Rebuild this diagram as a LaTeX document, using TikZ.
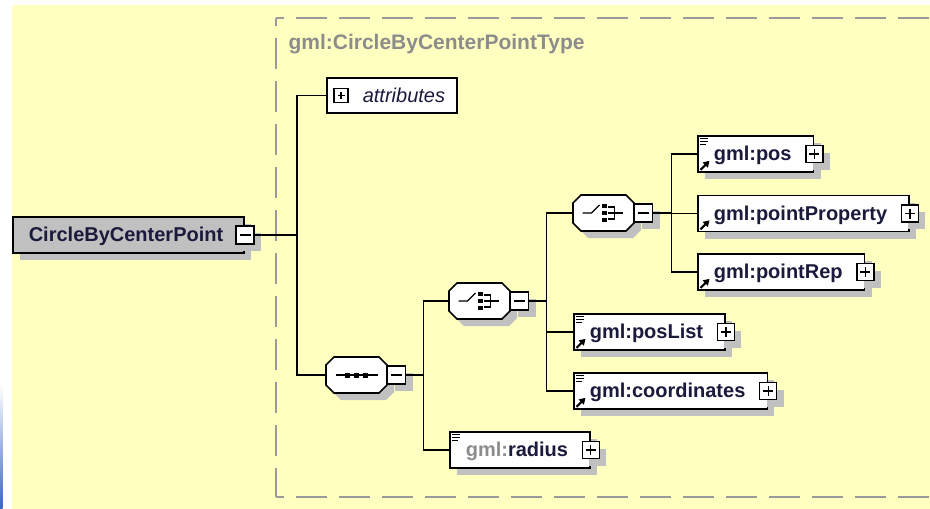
\documentclass[tikz,border=0pt]{standalone}
\usepackage{fontspec}
\setmainfont{Liberation Sans}
\usetikzlibrary{arrows.meta,positioning,shadows,calc}
\definecolor{canvas}{HTML}{FFFFC0}
\definecolor{ink}{HTML}{1A1A3C}
\definecolor{shade}{HTML}{C0C0C0}
\definecolor{rootfill}{HTML}{C0C0C0}
\definecolor{frame}{HTML}{9A9A9A}
\definecolor{typename}{HTML}{8C8C8C}
\definecolor{edgeblue}{HTML}{3A64C8}
\tikzset{
  every node/.style={font=\fontsize{20}{24}\selectfont,text=ink},
  wire/.style={draw=black,line width=1.6pt},
  typeframe/.style={draw=frame,line width=1.8pt,dash pattern=on 31pt off 12pt,dash phase=23pt},
  typelabel/.style={anchor=west,text=typename,font=\fontsize{21}{25}\selectfont\bfseries},
  shadowed/.style={general shadow={fill=shade,shadow xshift=7pt,shadow yshift=-7pt}},
  boxbase/.style={draw=black,line width=1.6pt,fill=white,shadowed,anchor=west,
    minimum height=36pt,inner xsep=0pt,inner ysep=0pt,text height=15pt,text depth=2pt,
    font=\fontsize{20}{24}\selectfont\bfseries},
  elem/.style={boxbase,execute at begin node={\hspace*{16pt}},execute at end node={\hspace*{22pt}}},
  rootbox/.style={boxbase,fill=rootfill,execute at begin node={\hspace*{16pt}},execute at end node={\hspace*{21pt}}},
  attrbox/.style={draw=black,line width=1.6pt,fill=white,anchor=west,
    minimum height=35pt,inner xsep=0pt,text height=15pt,text depth=2pt,
    font=\fontsize{20}{24}\selectfont\itshape,
    execute at begin node={\hspace*{36pt}},execute at end node={\hspace*{12pt}}},
  compo/.style={anchor=west,minimum width=61pt,minimum height=36pt,inner sep=0pt,outer sep=0pt},
  octagon/.style={draw=black,line width=1.6pt,fill=white},
  octshadow/.style={fill=shade,transform canvas={shift={(7pt,-7pt)}}},
  signbox/.style={draw=black,line width=1.3pt,fill=white,minimum width=18pt,minimum height=18pt,inner sep=0pt},
  minusmark/.style={path picture={\draw[line width=1.3pt]
    ([xshift=3.5pt]path picture bounding box.west) -- ([xshift=-3.5pt]path picture bounding box.east);}},
  plusmark/.style={path picture={\draw[line width=1.3pt]
    ([xshift=3.5pt]path picture bounding box.west) -- ([xshift=-3.5pt]path picture bounding box.east)
    ([yshift=-3.5pt]path picture bounding box.north) -- ([yshift=3.5pt]path picture bounding box.south);}},
  minusbox/.style={signbox,shadowed,minusmark},
  plusbox/.style={signbox,shadowed,plusmark,minimum width=17pt,minimum height=17pt},
  flatplus/.style={signbox,plusmark,minimum width=14pt,minimum height=14pt},
  glyph/.style={draw=black,line width=1.2pt},
  refglyph/.style={draw=black,line width=2.2pt,-{Triangle[length=6pt,width=7pt]}},
}
% octagon outline of a model group node
\newcommand{\octpath}[1]{([xshift=8pt]#1.north west) -- ([xshift=-8pt]#1.north east)
  -- ([yshift=-8pt]#1.north east) -- ([yshift=8pt]#1.south east)
  -- ([xshift=-8pt]#1.south east) -- ([xshift=8pt]#1.south west)
  -- ([yshift=8pt]#1.south west) -- ([yshift=-8pt]#1.north west) -- cycle}
\newcommand{\groupshape}[1]{%
  \fill[octshadow] \octpath{#1};
  \draw[octagon] \octpath{#1};}
% small marks inside the boxes
\newcommand{\simplemark}[1]{%
  \draw[glyph] ([shift={(3,3.5)}]#1.north west) -- ++(8,0)
    ([shift={(3,6.5)}]#1.north west) -- ++(8,0)
    ([shift={(3,9.5)}]#1.north west) -- ++(6,0);}
\newcommand{\refmark}[1]{%
  \draw[refglyph] ([shift={(3.5,-3)}]#1.south west) -- ++(9,-9);}
\newcommand{\seqmark}[1]{%
  \draw[glyph,line width=1.5pt] ([xshift=-21pt]#1.center) -- ([xshift=21pt]#1.center);
  \foreach \dx in {-9,0,9}
    \fill ([shift={(\dx-2.5,-2.5)}]#1.center) rectangle ++(5,5);}
\newcommand{\choicemark}[1]{%
  \draw[glyph,line width=1.4pt] ([shift={(-21,0)}]#1.center) -- ++(9,0) -- ++(8,-8);
  \foreach \dy in {-7,0,7}
    \fill ([shift={(-1.2,\dy-2.2)}]#1.center) rectangle ++(4.4,4.4);
  \draw[glyph,line width=1.4pt] ([shift={(4,-6)}]#1.center) -- ++(7,0) -- ++(0,12) -- ++(-7,0)
    ([shift={(4,0)}]#1.center) -- ++(15,0);}

\begin{document}
\begin{tikzpicture}[x=1pt,y=-1pt]
\useasboundingbox (0,0) rectangle (930,509);
\fill[white] (0,0) rectangle (930,509);
\fill[canvas] (12,5) rectangle (930,509);
\shade[top color=white,bottom color=edgeblue] (0,385) rectangle (2.5,509);

% complex type frame
\draw[typeframe] (276,18) -- (931,18);
\draw[typeframe] (276,18) -- (276,497);
\draw[typeframe] (276,497) -- (931,497);
\node[typelabel] (ctype) at (285,44) {gml:CircleByCenterPointType};

% root element
\node[rootbox] (root) at (12,235) {CircleByCenterPoint};
\node[minusbox] (rootx) at (root.east) {};

\node[attrbox] (attr) at (326,95.5) {attributes};
\node[flatplus] (attrx) at ([xshift=15pt]attr.west) {};

% model groups
\node[compo] (seq) at (326,375) {};
\groupshape{seq}
\node[minusbox,anchor=west] (seqx) at (seq.east) {};
\seqmark{seq}

\node[compo] (pick) at (449,301) {};
\groupshape{pick}
\node[minusbox,anchor=west] (pickx) at (pick.east) {};
\choicemark{pick}

\node[compo] (point) at (573,213) {};
\groupshape{point}
\node[minusbox,anchor=west] (pointx) at (point.east) {};
\choicemark{point}

% child elements
\node[elem] (pos) at (697,154) {gml:pos};
\node[plusbox] (posx) at (pos.east) {};
\simplemark{pos}
\refmark{pos}

\node[elem] (prop) at (697,213.5) {gml:pointProperty};
\node[plusbox] (propx) at (prop.east) {};
\refmark{prop}

\node[elem] (rep) at (697,272) {gml:pointRep};
\node[plusbox] (repx) at (rep.east) {};
\refmark{rep}

\node[elem] (plist) at (573,332) {gml:posList};
\node[plusbox] (plistx) at (plist.east) {};
\simplemark{plist}
\refmark{plist}

\node[elem] (coords) at (573,391) {gml:coordinates};
\node[plusbox] (coordsx) at (coords.east) {};
\simplemark{coords}
\refmark{coords}

\node[elem] (radius) at (449,450) {\textcolor{typename}{gml:}radius};
\node[plusbox] (radiusx) at (radius.east) {};
\simplemark{radius}

% tree wiring
\draw[wire] (rootx.east) -- ++(42,0) |- (attr.west);
\draw[wire] (rootx.east) -- ++(42,0) |- (seq.west);
\draw[wire] (seqx.east) -- ++(17,0) |- (pick.west);
\draw[wire] (seqx.east) -- ++(17,0) |- (radius.west);
\draw[wire] (pickx.east) -- ++(17,0) |- (point.west);
\draw[wire] (pickx.east) -- ++(17,0) |- (plist.west);
\draw[wire] (pickx.east) -- ++(17,0) |- (coords.west);
\draw[wire] (pointx.east) -- ++(18,0) |- (pos.west);
\draw[wire] (pointx.east) -- ++(18,0) |- (prop.west);
\draw[wire] (pointx.east) -- ++(18,0) |- (rep.west);

\end{tikzpicture}
\end{document}
